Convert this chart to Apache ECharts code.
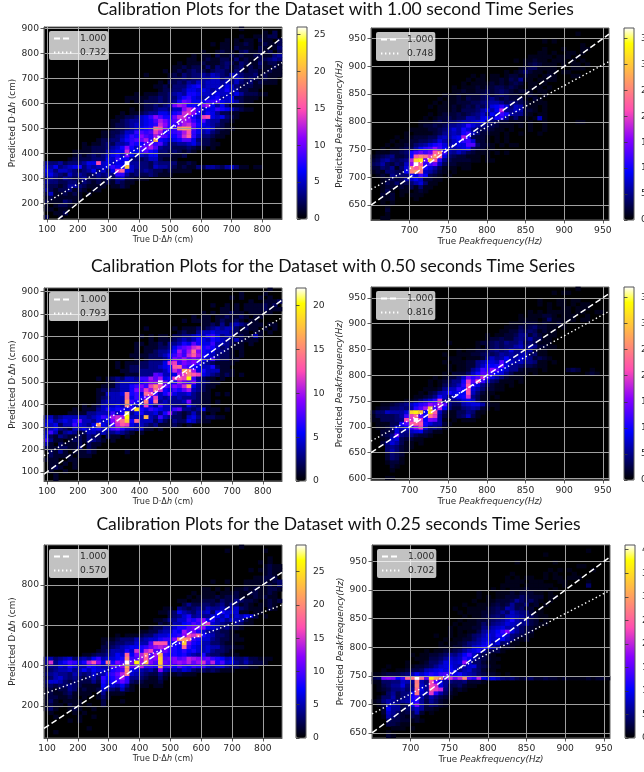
<!DOCTYPE html>
<html><head><meta charset="utf-8">
<style>html,body{margin:0;padding:0;background:#fff}#c{width:644px;height:772px}</style>
<script src="https://cdn.jsdelivr.net/npm/echarts@6/dist/echarts.min.js"></script></head>
<body><div id="c"></div><script>
const titles=['Calibration Plots for the Dataset with 1.00 second Time Series','Calibration Plots for the Dataset with 0.50 seconds Time Series','Calibration Plots for the Dataset with 0.25 seconds Time Series'];
// each row, top to bottom: [first column, counts...]
const hist1=[[41,1],[46,1,0,2],[41,1,0,0,1,1,1,2,2],[38,1,0,1,0,1,1,0,2,1,1,0,2],[35,1,0,1,1,0,1,1,2,1,0,1,2,1,1,2],[37,1,1,0,2,1,1,1,0,2,1,0,1,3],[33,1,0,0,1,2,1,1,0,2,3,1,1,2,1,2,0,2],[31,1,0,1,1,0,2,1,1,2,1,2,1,1,2,2,1,1,3,4],[30,1,1,0,1,2,1,1,2,2,1,3,1,2,1,1,2,2,3,4,3],[28,1,0,1,1,1,2,1,1,1,2,3,2,1,3,2,1,1,3,1,2,2,1],[27,1,1,2,1,2,2,1,3,1,3,2,3,1,2,3,1,2,1,2,1,1,2,1],[25,1,0,1,2,1,2,3,2,2,1,2,3,3,2,1,3,2,1,2,2,1,1,2,1,1],[21,1,0,0,0,0,1,2,1,3,2,3,3,4,3,5,4,3,2,5,4,3,2,2,3,1,2,1,1,1],[26,1,2,2,3,2,3,3,4,4,5,5,3,4,3,5,4,2,3,2,1,2,1,1],[24,1,0,2,2,3,2,4,3,5,4,5,5,5,4,5,3,5,3,2,3,1,2,1,1,1],[23,1,1,2,1,3,3,3,5,6,7,4,5,5,5,4,6,5,3,2,2,2,1,1],[24,1,2,2,3,3,4,6,6,5,6,5,4,5,5,7,5,4,2,2,1,1],[19,1,0,1,1,1,2,2,3,4,5,4,7,7,6,5,5,5,6,5,5,4,6,4,2,2,2,1,1],[17,1,1,1,1,1,2,2,3,2,3,3,5,7,8,6,5,4,5,6,7,4,5,6,2,2,1,1,1],[17,1,0,1,1,2,2,2,3,2,3,4,7,10,9,6,6,6,8,8,9,6,5,6,4,2,1,1],[20,1,2,2,3,2,3,4,10,12,11,7,7,6,10,12,6,4,6,3,1,1,1],[18,1,0,1,2,2,3,4,4,3,5,5,11,13,11,8,5,6,6,8,7,6,5,3,2,1,1],[16,1,0,1,1,2,3,4,4,6,6,5,7,8,13,14,11,7,5,7,6,4,2,2,1,1],[15,1,1,2,2,3,5,6,8,11,9,7,7,10,13,13,10,7,5,14,15,6,5,6,3,2,1],[14,1,1,2,3,4,4,5,6,7,9,12,10,8,9,11,12,11,8,6,9,5,4,4,2,2,1],[14,1,2,2,3,4,5,5,6,7,8,13,11,8,8,10,12,13,10,7,6,5,4,3,2,1],[14,1,2,2,3,4,5,6,7,8,17,15,10,7,8,18,19,18,9,6,5,6,5,2,2,1,1],[12,1,1,2,2,3,5,5,8,9,8,9,14,12,7,8,8,9,12,15,8,6,4,5,3,2,1,1],[12,1,1,2,3,4,6,8,7,11,9,8,12,10,9,7,7,9,13,16,8,5,3,3,2,1,1],[11,1,2,2,3,3,5,7,8,9,10,12,8,20,7,6,5,6,7,9,9,6,3,2,2,1],[8,1,0,1,1,2,3,2,4,4,5,8,7,7,9,11,8,9,5,3,3,4,4,5,6,4,2,2,1,1],[8,1,1,2,2,2,3,4,5,7,11,7,5,9,10,12,9,4,3,3,2,2,2,3,2,1,1,0,1],[6,1,1,1,1,2,2,2,4,5,6,6,13,6,6,8,9,7,6,3,3,2,3,2,1,2,1],[6,1,2,1,2,3,2,3,5,6,7,5,10,6,4,5,4,6,6,2,2,2,1,1,2],[5,1,2,2,2,2,3,3,3,6,5,8,6,7,3,3,2,3,5,5,2,1,1,1],[0,4,3,3,4,2,3,3,3,4,6,6,15,5,6,5,6,6,26,4,4,3,3,2,4,3,3,3,3,1,1,2,1],[0,5,4,6,3,4,5,6,7,3,5,4,5,5,6,8,7,7,21,5,4,3,3,2,5,4,4,3,2,1,2,1,1,3,2,4,4,3,2,4,5,3,1,1,0,1,1],[0,6,5,3,5,5,4,3,2,3,4,6,3,5,3,6,14,16,6,5,3,3,4,3,2,2,1,2,1,1,1,1],[0,5,6,4,3,2,5,3,4,3,2,3,4,3,4,3,8,8,4,2,3,2,2,3,2,1,1,1],[0,3,4,3,2,4,3,2,3,4,2,2,3,2,3,2,4,5,2,2,1,1,1],[0,4,3,3,2,2,3,3,1,3,2,1,2,1,2,1,3,2,1,1],[0,3,2,2,1,2,4,4,3,2,1,1,1,1,0,1,1,2,1],[0,4,2,1,2,2,3,1,2,1,0,1,1],[0,2,5,1,1,2,1,2,1,0,1],[0,1,2,1,1,1,1,1,1],[0,2,1,1,1,3,2,1],[0,1,0,1,2,2,1],[0,1,1,0,1,1],[2,1,1,2],[0,2,0,0,1]];
const hist2=[[0],[43,1],[0],[36,1,0,1],[44,1],[36,1,0,0,0,1,0,0,0,1,1],[35,1,1,0,1,0,0,1,1,0,1],[33,1,1,1,1,1,0,1,1,1,0,1],[30,1,0,1,1,2,1,1,0,1,1,1,0,1,0,1],[32,1,2,3,2,1,1,1,0,1,0,1,1,0,1],[31,1,2,3,3,1,1,1,1,0,0,0,1,1,1],[28,1,0,1,2,4,2,1,1,0,1,1,0,1,1],[21,1,0,1,0,1,1,0,1,2,2,1,2,1,1,0,1,2,1,0,0,0,1,1],[20,1,0,1,1,0,1,1,2,1,3,2,5,1,1,0,1,1,1,1],[19,1,0,1,1,1,1,2,1,2,1,2,3,2,0,1,1,0,1],[17,1,0,1,1,1,2,1,2,2,3,3,2,3,2,1,0,1,1,1,0,1],[17,1,1,2,1,1,2,2,3,2,3,4,3,2,1,2,2,1,0,1,1],[15,1,1,1,2,1,2,2,2,3,4,2,3,4,3,2,2,1,1,2,1,0,1],[14,1,0,1,1,2,1,3,2,2,3,4,5,3,2,3,2,2,3,1,0,2,1],[13,1,0,1,1,1,2,2,2,3,3,4,5,6,6,5,3,4,4,3,2,1,1,1,1],[12,1,0,1,1,1,2,1,2,3,2,4,3,5,8,9,11,8,4,7,6,2,1,1,0,1],[14,1,1,1,2,1,3,3,3,4,6,8,6,9,18,5,5,7,6,2,2,1,0,1],[12,1,0,1,2,2,2,3,2,3,4,5,7,5,9,7,12,10,6,5,5,2,1,0,1,1],[11,1,0,1,2,2,3,2,3,3,6,6,5,8,9,6,10,11,5,2,4,1,1,0,1,7,1],[10,1,1,1,2,3,2,4,4,5,6,6,7,8,9,6,4,3,2,2,1,1,1,0,1,0,0,1,0,0,0,0,0,0,1,1],[10,1,2,2,3,2,3,5,5,6,7,11,8,6,5,4,3,2,1,1,1,0,1,0,1,0,0,1],[8,1,1,1,1,2,2,3,4,6,8,6,10,8,5,4,3,3,2,1,1,0,1,0,0,0,1,0,0,1],[7,1,0,1,1,1,1,2,3,5,6,7,6,10,12,7,4,2,2,1,1,0,1,0,0,1,0,0,0,1],[5,1,0,1,1,2,2,2,3,3,6,7,6,8,9,17,10,3,2,2,1,0,1,0,1],[4,1,0,1,1,2,2,3,3,4,5,8,6,5,7,9,11,12,8,2,2,1,0,1,0,1],[3,1,0,1,1,2,2,4,5,6,8,10,11,8,6,7,8,8,13,13,4,2,2,1,0,1,0,1,1],[2,1,0,1,1,2,3,3,6,9,11,12,16,12,9,7,6,7,8,10,4,2,2,1,1],[1,1,1,1,2,2,3,4,10,12,14,12,14,22,26,12,6,5,7,5,3,2,1,1,1,0,1,0,1],[0,1,2,3,4,5,2,2,3,10,22,25,24,20,27,22,8,4,3,2,2,1,1,1,0,1],[0,2,3,5,6,4,3,4,5,18,31,33,14,30,22,11,5,3,2,2,2,2,1,1,0,1,1],[0,3,4,6,3,2,4,3,7,16,37,22,11,12,14,7,3,2,2,1,1,1],[0,2,2,4,3,5,1,4,8,25,22,26,10,8,6,3,1,1,1,0,1,1],[0,1,2,1,4,4,3,3,9,25,27,24,7,6,4,2,1,0,1],[1,1,2,1,5,4,4,4,10,8,12,9,3,2,1,0,1],[2,1,2,3,2,3,6,7,9,7,2,2,1,1],[2,1,3,2,4,2,3,4,6,8,4,1,1],[2,1,2,2,1,2,1,3,1,4,1,1],[2,1,3,1,0,1,1,0,1,2,1],[2,2,1,2,0,1,0,1,1,1],[2,1,1,2,0,0,0,0,1],[2,1,0,1],[3,1],[3,2],[3,1],[2,1,1]];
const hist3=[[47,1],[41,1,0,0,0,0,1,0],[39,1,0,1,0,0,0,1,0,1],[43,1,0,0,1,1,1,2],[35,1,0,0,1,0,1,0,1,1,1,1,2,1,2],[37,1,1,0,1,0,1,1,1,1,2,1,1,1],[33,1,0,1,0,1,1,2,1,1,0,1,1,1,1,1],[31,1,0,1,1,0,1,1,2,1,1,2,1,0,1,1],[29,1,0,1,1,1,1,0,1,2,1,1,2,1,0,1,1],[33,1,1,2,1,3,1,3,4,3,2,1,1,1,0,1,1],[21,1,0,0,0,0,0,1,0,1,1,1,2,1,2,3,4,3,4,4,2,1,2,1,1,0,1,0,1],[28,1,2,1,1,3,4,4,5,4,4,4,3,2,1,1,0,1,1,0,1],[20,1,0,1,0,1,1,0,2,2,3,3,4,5,4,6,7,5,3,4,4,1,2,1,1,4,1],[22,1,0,1,1,1,2,3,4,3,4,6,5,4,6,5,4,3,2,4,2,1,1,1],[19,1,1,0,1,1,2,1,3,3,4,6,5,8,6,5,5,7,4,4,3,2,1,1,0,1],[19,1,0,1,1,1,2,2,3,5,7,8,9,11,12,6,7,6,4,2,3,1,1,1],[19,1,0,1,1,2,3,3,4,6,10,7,10,14,9,6,5,5,3,3,2,1,0,1],[18,1,1,1,1,2,2,3,4,6,7,9,7,11,13,10,6,5,4,3,2,2,1,0,1],[19,1,0,1,2,2,2,3,5,9,8,10,8,9,8,6,4,7,3,2,2,1,1],[15,1,0,1,1,1,2,2,3,3,3,5,11,12,7,9,8,9,7,4,3,2,1,1,1,1],[15,1,0,1,2,2,2,2,3,3,4,5,6,13,14,8,7,6,5,4,4,6,2,1,1],[16,1,1,2,2,3,3,3,3,3,4,6,11,9,17,15,10,5,6,4,4,4,1,1,1],[17,1,1,1,3,3,3,8,7,4,4,5,10,12,15,13,12,5,4,3,2,1,2,1,0,1],[11,1,0,1,2,3,2,4,4,3,7,7,10,8,10,5,6,12,13,12,20,7,3,2,1,1,0,1],[13,1,1,3,4,4,4,4,6,7,9,9,22,8,5,6,10,8,7,9,4,3,2,1,1],[12,1,1,1,3,4,4,6,7,9,7,12,15,12,8,7,9,8,11,17,5,3,2,1,1],[11,1,2,2,3,3,4,4,6,9,8,12,10,14,11,6,5,7,6,8,10,4,3,2,1],[11,1,1,4,4,4,5,14,6,7,5,14,13,7,4,6,8,5,4,4,5,3,2,1,1,0,1,0,1],[11,1,2,3,4,4,4,14,5,7,6,9,7,12,4,3,4,3,4,3,3,3,2,1,1],[11,1,3,4,4,4,4,16,7,6,4,15,6,14,3,4,3,3,3,4,9,2,2,1,1,0,1],[8,1,0,1,2,4,4,4,5,4,15,6,4,5,12,5,3,7,4,4,3,3,2,5,3,2,1,1],[6,1,0,1,1,1,3,4,6,5,6,6,5,7,19,6,5,7,6,5,4,4,7,8,3,3,2,3,5,1,1,1,0,1],[5,1,1,1,1,3,3,4,4,4,7,4,6,21,3,5,6,4,4,5,3,6,9,3,2,1,2,4,2,1,0,1],[0,3,4,2,3,4,4,4,4,4,3,4,5,7,6,10,11,10,20,4,4,4,17,4,3,7,4,3,2,2,1,4,5,3,1,2,2,1,1],[0,4,5,3,4,5,4,6,8,4,4,3,5,4,5,9,12,14,18,6,14,4,4,4,2,4,2,1,3,2,2,5,4,2,1,1],[0,5,4,5,2,4,4,7,5,4,3,5,16,5,4,7,11,13,12,5,4,4,3,2,3,1,1,1,2,1,0,1],[0,3,4,5,3,2,1,4,4,5,4,5,6,4,5,7,8,6,4,4,3,4,1,1,0,1],[0,4,7,4,1,3,4,3,1,2,4,4,3,4,3,3,4,3,2,1,0,1],[0,5,2,1,3,2,1,1,2,1,3,2,2,0,2,1,1,0,1],[0,7,3,1,1,0,1,2,2,1,3,3,2,1,0,1],[0,4,1,0,2,1,1,1,2,0,2,1,1],[0,2,1,1,2,2,1,1,3,0,2,1],[1,2,1,3,1,0,1,1,1,2,1,0,0,0,0,0,0,1],[1,2,1,1,1,1,0,1,1,1],[0,1,1,1,0,0,1,1],[1,1,1,0,1,0,1],[1,1,2,1,0,0,1],[1,1,0,0,1],[2,1],[1,0,1]];
const hist4=[[43,1],[38,1,0,1,1],[0],[35,1,0,0,0,1,1,0,1,1],[35,1,0,1,0,1,1,0,1,0,1,1],[37,1,0,0,1,1,0,1,1,1],[33,1,0,1,0,1,1,1,1,1,0,1,1,0,0,1,1],[31,1,0,1,1,1,2,2,1,0,1,1,1,0,0,1],[31,1,1,1,1,0,1,4,1,1,1,1,1,0,1,1],[29,1,1,1,2,2,2,1,2,1,1,2,1],[28,1,1,1,3,2,3,4,2,2,1,1,0,1],[27,1,1,2,2,4,3,4,3,1,2,1,1],[24,1,0,1,1,2,2,3,5,5,2,4,2,1,1,1],[24,1,2,2,3,2,2,4,5,4,6,3,3,1,1],[16,1,0,0,0,0,0,1,2,2,3,4,3,5,4,4,6,3,4,3,1,1,1],[22,1,0,2,3,4,3,4,4,6,7,4,6,5,2,2,1,1],[18,1,0,1,1,2,2,3,4,5,4,5,8,5,5,5,6,2,1,1],[15,1,0,0,1,1,1,2,2,3,4,3,4,6,5,6,5,6,7,3,4,1,1],[16,1,1,1,0,1,1,1,2,5,7,5,6,9,6,6,8,7,5,2,3,2,1],[15,1,0,1,1,1,2,2,5,6,8,8,7,13,8,7,6,7,5,5,4,1,1,0,1,0,0,0,0,0,0,0,0,0,0,0,0,1],[16,1,0,1,1,2,2,5,7,10,9,10,14,8,5,5,4,3,3,2,1,1],[16,1,0,1,1,2,5,7,12,11,16,13,9,7,5,5,2,1,1,1,0,1,0,0,0,0,2,3,2,0,0,1],[15,1,0,2,2,2,4,7,10,13,13,11,9,8,5,3,1,1,1,0,1,0,0,0,0,0,0,0,0,0,0,1,2,1],[13,1,0,1,2,2,4,7,14,11,13,18,12,8,6,4,2,1,1,1],[12,1,0,1,2,3,5,5,10,20,13,21,12,7,4,3,1,1,1,0,1],[12,1,0,1,3,4,5,7,11,22,11,8,5,3,2,1,1,0,1],[11,1,1,1,2,5,7,7,11,10,21,8,6,4,2,2,1,1],[10,1,0,2,3,6,7,10,8,9,9,22,7,4,2,1,1],[9,1,1,2,3,5,10,7,5,7,9,10,19,5,3,1,1,0,1],[7,1,1,2,4,6,8,11,20,5,4,5,6,8,9,7,3,1,1],[2,1,1,2,3,4,5,7,9,11,12,16,14,18,13,5,3,3,6,7,8,8,6,2,1,1],[1,1,2,2,4,4,5,4,6,11,13,17,30,12,18,9,4,2,2,4,5,6,5,2,1,0,1],[0,2,4,4,7,6,6,6,8,31,33,30,9,32,22,7,3,1,1,3,3,5,4,1,1],[0,1,3,3,3,3,4,6,12,20,23,13,10,24,20,6,2,1,1,3,4,7,3,1],[0,1,1,3,3,3,4,5,21,19,37,20,9,15,14,6,1,0,1,0,1,1,1],[1,1,1,1,3,3,10,13,22,23,22,10,8,6,6,2,1],[1,1,1,2,4,8,7,9,12,16,20,8,4,5,4,1],[2,2,2,3,8,5,5,7,8,9,4,3,1,1],[2,2,3,5,14,5,4,5,3,2,2,1],[2,1,2,7,8,3,2,2,1,1],[2,2,5,8,6,3,1,1,0,1],[3,4,5,4,2,1,1],[3,4,6,4,2,1],[3,2,4,3,2],[3,2,4,3,1],[3,1,2,2,1],[4,2,1],[4,1],[0],[2,0,1,1]];
const hist5=[[41,1],[38,1,0,0,0,0,0,0,0,1],[0],[47,1],[45,1,0,1],[46,1,2,1,1],[43,1,0,1,1,2,1,1],[46,1,2,1],[44,1,1,2,2,2],[35,1,0,0,1,0,0,0,1,1,1,1,2,1,2,3],[42,1,1,1,1,1,2,1,3],[33,1,1,0,1,0,1,0,1,1,2,1,2,1,1,2,2,1],[31,1,0,1,1,1,0,1,1,1,2,1,1,2,2,1,1,2,1],[30,1,0,1,1,1,1,2,1,2,2,2,1,1,1,2,1,2,1,1],[28,1,1,0,1,1,2,2,2,1,3,2,2,4,3,2,2,1,0,1,2,1,2],[29,2,4,2,2,3,3,2,3,4,2,4,3,1,2,1,0,1,1,2,1],[25,1,1,0,4,3,2,3,4,3,5,4,4,5,4,5,6,3,2,1,1,1,0,2,1],[24,1,1,2,3,7,5,4,3,5,5,6,3,7,8,6,6,6,1,1,0,1,1],[26,2,3,4,6,8,4,5,4,4,6,7,5,7,4,6,5,7,6,2,0,1],[23,1,1,2,4,4,6,6,9,8,10,12,7,8,5,6,4,6,5,5,2,1],[24,2,1,2,5,5,7,8,10,9,13,15,6,5,4,3,2,4,3,1,1],[22,1,2,2,4,4,6,8,8,10,11,12,12,7,6,5,3,4,2,2,1],[20,1,1,2,2,4,5,5,8,7,13,10,11,8,6,4,4,3,2,2,1],[15,1,0,1,1,1,2,3,3,5,6,6,7,8,9,12,16,15,18,8,6,5,3,3,2,1,1],[12,1,1,1,2,3,3,3,5,4,5,6,6,8,9,9,12,20,21,19,9,8,6,6,4,3,2,2,1,1,1],[12,1,2,2,3,3,4,4,6,5,5,10,17,17,17,8,7,9,24,11,8,7,5,5,3,3,2,1,1],[12,2,2,3,4,5,6,7,7,8,9,11,13,14,13,9,8,7,18,9,7,6,5,6,5,5,3,2,2,1,1],[11,1,2,3,5,5,5,8,6,15,8,14,16,10,10,11,9,8,7,9,7,8,6,5,6,4,3,3,2,1],[8,1,1,2,3,3,4,5,7,6,18,7,11,14,19,10,13,22,9,8,8,7,8,6,5,4,8,4,3,3,2,1,1,1],[0,4,5,3,4,5,6,3,4,5,4,7,9,5,6,6,7,8,20,9,10,13,18,11,12,24,10,11,12,10,11,14,13,12,10,11,9,8,7,5,6,3,3,4,2,2,1,1,1],[0,4,15,4,6,8,10,9,6,8,14,17,12,7,19,8,12,10,29,11,26,13,23,12,10,24,11,10,12,13,12,14,11,13,15,10,14,8,10,6,7,4,3,5,3,2,2,1],[0,3,4,4,6,5,8,6,5,5,8,7,6,5,5,10,9,12,22,10,11,14,9,9,8,22,9,10,7,10,8,7,9,8,9,6,5,6,6,4,3,3,2,2,1,1],[0,2,3,4,5,5,6,4,5,7,5,7,6,6,5,8,9,10,20,7,6,5,4,5,3,12,5,4,5,4,6,5,3,2,3,2,3,2,1,1,1],[0,3,4,5,4,4,3,5,4,3,4,6,4,5,8,9,11,14,19,6,5,4,3,2,2,4,2,1,1,2,1,1,1],[0,2,3,5,6,4,3,4,3,2,3,5,3,9,7,8,10,13,9,4,4,3,2,1,1,3,1],[0,3,6,6,5,3,2,3,2,2,2,4,2,8,6,8,9,11,9,3,2,2,1,1,1,2],[0,2,3,2,3,3,4,3,2,1,1,1,1,7,5,6,5,7,4,1,0,1,1,0,1,1],[0,1,2,1,2,2,4,3,1,2,1,1,2,6,4,3,2,5,2,1],[0,1,2,1,1,2,3,1,1,1,1,0,1,4,1,1,1,1],[0,1,2,2,1,1,2,1,0,1,0,0,1,3,1],[0,1,3,1,0,1,1,1,1,0,0,0,0,2,0,0,0,1],[0,1,2,1,1,0,2,1,1,0,1,0,0,2],[0,1,3,1,0,0,1,2,1,0,0,1],[1,1,0,0,0,0,1,0,1],[2,1,0,0,0,0,1,0,0,1],[5,1,0,1],[0],[9,1],[1,0,1],[0]];
const hist6=[[0],[45,1],[36,1],[0],[30,1,0,0,0,0,0,0,0,1],[43,1,1],[37,1,0,1,0,1,0,0,0,0,1],[29,1,0,0,0,0,0,0,1,0,1,0,0,0,1],[28,1,0,1,0,1,1,0,0,1,0,1,1,0,1,1,1],[28,1,1,1,1,0,1,1,1,0,0,0,1,1,0,0,0,0,1],[27,1,1,1,1,0,1,1,1,1,1,1,0,0,1,0,0,0,0,4],[25,1,0,1,0,1,1,1,2,1,1,1,1,0,1],[22,1,0,0,0,1,1,1,2,1,2,2,2,1,1,0,1],[22,1,0,1,0,1,1,2,2,2,4,3,2,2,2,0,1,1],[21,1,0,0,1,1,2,2,2,3,6,4,3,4,2,1,0,1],[19,1,0,0,1,1,1,2,3,2,3,6,3,3,5,1,2,0,1],[17,1,0,0,1,1,1,1,2,3,4,3,7,6,3,4,2,2,0,1],[18,1,0,1,1,1,2,2,3,4,6,4,8,6,5,5,2,1,1],[19,1,0,1,1,2,3,4,5,4,7,8,7,6,5,4,2,1,1],[18,1,0,1,1,2,2,3,4,5,6,8,11,7,6,6,3,2,0,1],[17,1,0,1,1,1,2,4,3,5,6,7,9,8,7,5,6,3,2,1,1],[16,1,0,1,1,1,2,2,5,5,7,8,9,7,7,6,4,3,2,1],[16,1,0,1,0,1,1,3,6,7,8,10,13,17,9,6,4,3,2],[13,1,0,0,1,0,1,1,2,4,5,7,9,8,11,11,8,5,4,3,2,1],[15,1,0,1,1,2,2,4,6,8,9,8,9,10,7,5,2,1,2],[14,1,0,1,1,2,3,5,6,7,9,11,7,9,4,5,1,1],[14,1,1,1,2,2,4,5,8,9,11,11,7,5,2,2,1],[11,1,0,1,1,2,2,3,4,6,8,9,11,6,4,3,3,1],[8,1,0,1,1,2,2,3,4,6,5,7,10,13,8,5,3,2,1],[9,1,1,1,3,3,4,6,8,7,8,12,10,7,4,3,2,1,1],[7,1,0,0,1,2,4,4,6,9,9,8,9,18,8,4,4,2,1,1],[3,1,0,0,0,1,1,2,2,3,4,6,8,9,10,8,7,7,8,9,4,3,2,1,1],[2,1,0,0,1,1,2,3,3,4,7,8,9,10,9,11,9,5,7,8,5,4,2,1,1],[0,1,1,2,3,3,3,4,5,7,10,8,10,12,11,13,14,13,9,11,8,7,6,4,3,2,2,1,0,1],[0,3,4,16,17,16,10,13,26,27,41,26,15,36,30,28,15,21,16,20,28,14,12,20,10,8,9,7,5,4,5,3,2,3,4,2,2,3,2,2,1,2,1,1,1,1,2,1,2,2,1],[0,1,1,4,4,5,5,8,7,6,27,7,5,24,15,9,6,5,4,4,5,2,2,2,1],[0,0,1,3,4,6,6,9,5,5,28,8,6,23,21,9,6,3,3,4,2,1,1],[0,0,1,2,3,5,5,6,4,6,26,9,6,25,22,20,5,3,1,2,1],[0,0,0,1,4,6,3,5,5,10,27,8,7,22,12,7,4,2,1],[0,0,1,4,4,7,3,5,6,11,13,7,4,7,5,3,2,1],[0,1,2,5,7,6,5,6,7,11,12,6,3,6,4,2,1],[1,1,3,7,7,6,3,4,9,16,7,3,5,4,2,1],[1,0,2,10,6,6,3,4,6,8,6,2,2,1],[2,2,8,6,4,2,3,3,7,2,0,1],[2,1,7,5,3,2,1,3,2],[3,4,3,3,2,2,1,2,1],[3,3,3,2,1,1],[4,1,1,1,0,1],[3,1],[3,2,1]];
const xH=[100,200,300,400,500,600,700,800], xP=[700,750,800,850,900,950];
const panels=[
{g:[44,27,238,192],x:[90,864],y:[137,906],xt:xH,yt:[200,300,400,500,600,700,800,900],max:26,cb:[297,10],ct:[0,5,10,15,20,25],l:'0.732',s:.732,c:131,d:hist1,left:true},
{g:[371,28,238,192],x:[650,958],y:[623,969],xt:xP,yt:[650,700,750,800,850,900,950],max:37,cb:[624,10],ct:[0,5,10,15,20,25,30,35],l:'0.748',s:.748,c:192,d:hist2,left:false},
{g:[44,288,238,193],x:[90,862],y:[60,916],xt:xH,yt:[100,200,300,400,500,600,700,800,900],max:22,cb:[296,10],ct:[0,5,10,15,20],l:'0.793',s:.793,c:101,d:hist3,left:true},
{g:[371,287,238,193],x:[650,958],y:[597,971],xt:xP,yt:[600,650,700,750,800,850,900,950],max:37,cb:[624,10],ct:[0,5,10,15,20,25,30,35],l:'0.816',s:.816,c:142,d:hist4,left:false},
{g:[44,545,238,193],x:[90,862],y:[42,997],xt:xH,yt:[200,400,600,800],max:29,cb:[296,10],ct:[0,5,10,15,20,25],l:'0.570',s:.57,c:209,d:hist5,left:true},
{g:[372,545,238,193],x:[650,958],y:[641,979],xt:xP,yt:[650,700,750,800,850,900,950],max:41,cb:[625,10],ct:[0,5,10,15,20,25,30,35,40],l:'0.702',s:.702,c:227,d:hist6,left:false}];
function cl(v){return Math.max(0,Math.min(1,v))}
const cmap=[];for(let k=0;k<=100;k++){const t=k/100;const r=cl(t/.32-.78125),g=cl(2*t-.84),b=cl(t<.25?4*t:t<.42?1:t<.92?-2*t+1.84:t/.08-11.5);cmap.push(`rgb(${Math.round(r*255)},${Math.round(g*255)},${Math.round(b*255)})`)}
const bins=Array.from({length:50},(_,i)=>i);
const F='DejaVu Sans',TC='#2a2a2a';
const grid=[],xAxis=[],yAxis=[],series=[],legend=[],visualMap=[];
const tick={show:true,length:3.5,lineStyle:{color:'#333',width:.8}};
const mkRich=fs=>({a:{fontFamily:F,fontSize:fs,color:TC},i:{fontFamily:F,fontSize:fs,color:TC,fontStyle:'italic'}});
const valAxis=(pos,k,range,ticks,name,fs,gap,mg)=>({type:'value',gridIndex:k,position:pos,min:range[0],max:range[1],z:3,
 axisLine:{show:true,onZero:false,lineStyle:{color:'#555',width:1}},axisTick:{...tick,customValues:ticks},
 axisLabel:{fontFamily:F,fontSize:9.2,color:TC,margin:mg,customValues:ticks,hideOverlap:false},
 splitLine:{show:true,lineStyle:{color:'#a0a0a0',width:1}},name,nameLocation:'middle',nameGap:gap,nameTextStyle:{rich:mkRich(fs),fontFamily:F,fontSize:fs,color:TC}});
panels.forEach((p,k)=>{
 const gi=grid.length;
 grid.push({left:p.g[0],top:p.g[1],width:p.g[2],height:p.g[3],show:true,backgroundColor:'#000',borderColor:'#666',borderWidth:1,z:0,outerBoundsMode:'none'});
 const xn=p.left?'{a|True D·Δ}{i|h}{a| (cm)}':'{a|True }{i|Peakfrequency(Hz)}';
 const yn=p.left?'{a|Predicted D·Δ}{i|h}{a| (cm)}':'{a|Predicted }{i|Peakfrequency(Hz)}';
 const xv=xAxis.length,yv=yAxis.length;
 xAxis.push(valAxis('bottom',gi,p.x,p.xt,xn,p.left?8.1:8.8,17,6));
 yAxis.push(valAxis('left',gi,p.y,p.yt,yn,8.8,27,5));
 xAxis.push({type:'category',gridIndex:gi,data:bins,show:false});
 yAxis.push({type:'category',gridIndex:gi,data:bins,show:false});
 const cells=[];
 p.d.forEach((r,n)=>{for(let q=1;q<r.length;q++)if(r[q]>0)cells.push([r[0]+q-1,49-n,r[q]])});
 const hi=series.length;
 series.push({type:'heatmap',xAxisIndex:xv+1,yAxisIndex:yv+1,data:cells,z:1,silent:true,progressive:0,animation:false});
 series.push({type:'line',name:'1.000',xAxisIndex:xv,yAxisIndex:yv,data:[[p.x[0],p.x[0]],[p.x[1],p.x[1]]],symbol:'none',z:5,lineStyle:{color:'#fff',width:1.5,type:[6,3]},animation:false,silent:true});
 series.push({type:'line',name:p.l,xAxisIndex:xv,yAxisIndex:yv,data:[p.x[0],p.x[1]].map(v=>[v,p.s*v+p.c]),symbol:'none',z:5,lineStyle:{color:'#fff',width:1.4,type:[1.4,2.6]},animation:false,silent:true});
 legend.push({data:['1.000',p.l],orient:'vertical',left:p.g[0]+5,top:p.g[1]+4,padding:[3,2,3,4],itemWidth:18,itemHeight:6,itemGap:5,backgroundColor:'rgba(255,255,255,.76)',borderRadius:2,selectedMode:false,itemStyle:{color:'transparent',borderColor:'transparent',borderWidth:0,opacity:0},textStyle:{fontFamily:F,fontSize:9.2,color:TC,padding:[0,0,0,3]},z:7});
 visualMap.push({type:'continuous',seriesIndex:hi,min:0,max:p.max,calculable:false,show:true,orient:'vertical',left:p.cb[0],top:p.g[1],itemWidth:p.cb[1],itemHeight:p.g[3],text:['',''],padding:0,inRange:{color:cmap},z:4});
 const cg=grid.length;
 grid.push({left:p.cb[0],top:p.g[1],width:p.cb[1],height:p.g[3],show:true,backgroundColor:'transparent',borderColor:'#555',borderWidth:1,z:5,outerBoundsMode:'none'});
 xAxis.push({type:'value',gridIndex:cg,show:false,min:0,max:1});
 yAxis.push({type:'value',gridIndex:cg,position:'right',min:0,max:p.max,z:6,axisLine:{show:false},splitLine:{show:false},axisTick:{...tick,customValues:p.ct},axisLabel:{fontFamily:F,fontSize:9.2,color:TC,margin:7,customValues:p.ct}});
});
const title=[[330.5,-5],[328,252],[333.5,510]].map((c,i)=>({text:titles[i],left:c[0],top:c[1],textAlign:'center',textStyle:{fontFamily:'Lato',fontSize:17.5,fontWeight:'normal',color:'#111'}}));
const chart=echarts.init(document.getElementById('c'),null,{renderer:'canvas'});
chart.setOption({animation:false,title,grid,xAxis,yAxis,series,legend,visualMap});
</script></body></html>
